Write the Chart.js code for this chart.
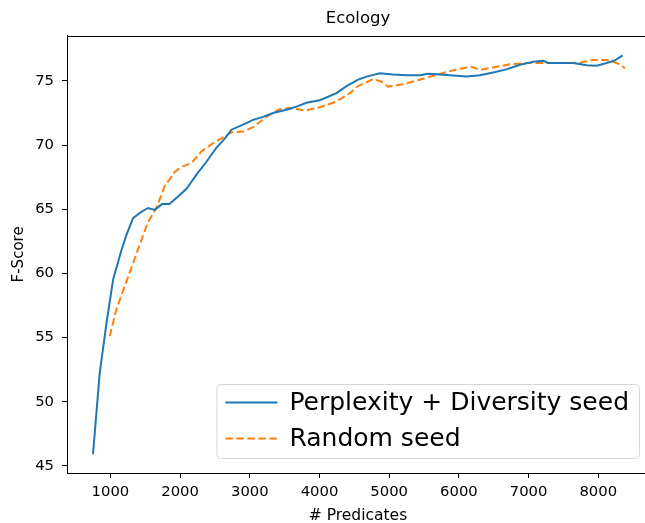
<!DOCTYPE html>
<html><head><meta charset="utf-8">
<script src="https://cdn.jsdelivr.net/npm/chart.js@4"></script>
<style>
html,body{margin:0;padding:0;overflow:hidden;background:#fff;}
#wrap{width:660px;height:523px;position:relative;}
</style></head><body>
<div id="wrap"><canvas id="c"></canvas></div>
<script>
const seriesLabels = ['Perplexity + Diversity seed', 'Random seed'];
const blueX = [750, 846, 943, 1038, 1158, 1230, 1325, 1445, 1540, 1636, 1740, 1845, 1971, 2091, 2235, 2378, 2522, 2641, 2737, 2904, 3047, 3191, 3334, 3526, 3670, 3813, 4004, 4244, 4388, 4554, 4675, 4866, 5057, 5249, 5440, 5560, 5727, 5918, 6110, 6301, 6492, 6685, 6876, 7067, 7210, 7282, 7450, 7641, 7833, 7977, 8120, 8239, 8350];
const blueY = [45.9, 52.2, 56.1, 59.5, 61.8, 63.0, 64.3, 64.8, 65.1, 64.95, 65.4, 65.4, 66.0, 66.6, 67.7, 68.7, 69.8, 70.5, 71.2, 71.6, 71.97, 72.2, 72.5, 72.75, 73.0, 73.3, 73.5, 74.05, 74.6, 75.1, 75.34, 75.6, 75.5, 75.45, 75.45, 75.57, 75.5, 75.42, 75.34, 75.45, 75.66, 75.9, 76.26, 76.5, 76.57, 76.4, 76.4, 76.4, 76.23, 76.18, 76.4, 76.6, 77.0];
const orangeX = [990, 1086, 1205, 1325, 1445, 1540, 1660, 1779, 1923, 2019, 2163, 2306, 2473, 2616, 2737, 2904, 3047, 3239, 3430, 3574, 3789, 4004, 4196, 4316, 4436, 4554, 4770, 4890, 4985, 5200, 5440, 5727, 5967, 6183, 6301, 6492, 6732, 6972, 7259, 7546, 7737, 7928, 8120, 8264, 8383];
const orangeY = [55.1, 57.2, 59.0, 60.8, 62.6, 64.0, 65.1, 66.8, 67.9, 68.3, 68.6, 69.5, 70.15, 70.6, 71.0, 71.06, 71.4, 72.2, 72.8, 72.9, 72.7, 72.95, 73.3, 73.65, 74.05, 74.6, 75.14, 74.95, 74.56, 74.75, 75.1, 75.55, 75.9, 76.1, 75.86, 76.05, 76.3, 76.4, 76.4, 76.4, 76.43, 76.64, 76.64, 76.4, 76.0];
const xTicks = [1000, 2000, 3000, 4000, 5000, 6000, 7000, 8000];
const yTicks = [45, 50, 55, 60, 65, 70, 75];

const FONT = "'DejaVu Sans', sans-serif";
const toPts = (xs, ys) => xs.map((x, i) => ({x: x, y: ys[i]}));

const framePlugin = {
  id: 'frame',
  afterDraw(chart) {
    const ctx = chart.ctx, a = chart.chartArea;
    ctx.save();
    ctx.strokeStyle = '#000';
    ctx.lineWidth = 1;
    ctx.strokeRect(Math.round(a.left) + 0.5, Math.round(a.top) + 0.5, Math.round(a.right - a.left), Math.round(a.bottom - a.top));
    ctx.restore();
  }
};

const legendPlugin = {
  id: 'mplLegend',
  afterDraw(chart) {
    const ctx = chart.ctx, a = chart.chartArea;
    const ds = chart.data.datasets;
    ctx.save();
    ctx.font = "25px " + FONT;
    let tw = 0;
    ds.forEach(d => { tw = Math.max(tw, ctx.measureText(d.label).width); });
    const padL = 9, lineLen = 52, gap = 12, padR = 10, rowH = 36;
    const bw = padL + lineLen + gap + tw + padR;
    const bh = 74;
    const right = a.right - 10, bottom = a.bottom - 15;
    const bx = right - bw, by = bottom - bh;
    ctx.fillStyle = 'rgba(255,255,255,0.8)';
    ctx.strokeStyle = '#d6d6d6';
    ctx.lineWidth = 1;
    ctx.beginPath();
    ctx.roundRect(bx + 0.5, by + 0.5, bw, bh, 4);
    ctx.fill();
    ctx.stroke();
    ds.forEach((d, i) => {
      const cy = by + 18.5 + i * rowH;
      ctx.strokeStyle = d.borderColor;
      ctx.lineWidth = d.borderWidth;
      ctx.setLineDash(d.borderDash || []);
      ctx.beginPath();
      ctx.moveTo(bx + padL, cy);
      ctx.lineTo(bx + padL + lineLen, cy);
      ctx.stroke();
      ctx.setLineDash([]);
      ctx.fillStyle = '#000';
      ctx.textBaseline = 'middle';
      ctx.textAlign = 'left';
      ctx.fillText(d.label, bx + padL + lineLen + gap, cy + 1);
    });
    ctx.restore();
  }
};

new Chart(document.getElementById('c'), {
  type: 'line',
  data: {
    datasets: [
      {label: seriesLabels[0], data: toPts(blueX, blueY), borderColor: '#1f77b4', borderWidth: 2, pointRadius: 0, tension: 0, fill: false},
      {label: seriesLabels[1], data: toPts(orangeX, orangeY), borderColor: '#ff7f0e', borderWidth: 2, borderDash: [7.5, 3.5], pointRadius: 0, tension: 0, fill: false}
    ]
  },
  options: {
    responsive: true,
    maintainAspectRatio: false,
    animation: false,
    layout: {padding: {left: 0, right: 11, top: 0, bottom: 0}},
    plugins: {
      legend: {display: false},
      tooltip: {enabled: false},
      title: {display: true, text: 'Ecology', fullSize: false, color: '#000', font: {family: FONT, size: 16.5, weight: 'normal'}, padding: {top: 9, bottom: 7}}
    },
    scales: {
      x: {
        type: 'linear', min: 377, max: 8728,
        afterBuildTicks: s => { s.ticks = xTicks.map(v => ({value: v})); },
        afterFit: s => { s.height = 50; },
        border: {color: '#000', width: 1},
        grid: {display: true, drawOnChartArea: false, drawTicks: true, tickLength: 5, tickColor: '#000'},
        ticks: {color: '#000', padding: 5, font: {family: FONT, size: 14.8}, maxRotation: 0, autoSkip: false, callback: v => String(v)},
        title: {display: true, text: '# Predicates', color: '#000', font: {family: FONT, size: 15.5}, padding: {top: 0, bottom: -2}}
      },
      y: {
        type: 'linear', min: 44.44, max: 78.52,
        afterBuildTicks: s => { s.ticks = yTicks.map(v => ({value: v})); },
        afterFit: s => { s.width = 67; },
        border: {color: '#000', width: 1},
        grid: {display: true, drawOnChartArea: false, drawTicks: true, tickLength: 5, tickColor: '#000'},
        ticks: {color: '#000', padding: 8, font: {family: FONT, size: 14.8}, autoSkip: false, callback: v => String(v)},
        title: {display: true, text: 'F-Score', color: '#000', font: {family: FONT, size: 15}, padding: {top: 10, bottom: 0}}
      }
    }
  },
  plugins: [framePlugin, legendPlugin]
});
</script>
</body></html>
